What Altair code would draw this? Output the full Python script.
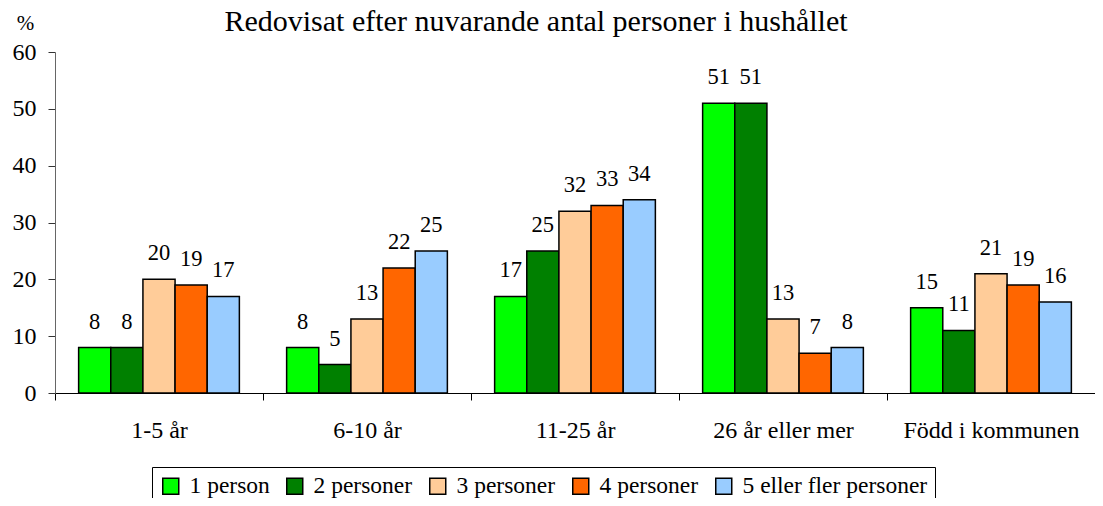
import altair as alt
import pandas as pd

groups = ["1-5 år", "6-10 år", "11-25 år", "26 år eller mer", "Född i kommunen"]
series = ["1 person", "2 personer", "3 personer", "4 personer", "5 eller fler personer"]
colors = ["#00FF00", "#008000", "#FFCC99", "#FF6600", "#99CCFF"]

v_1person = [8, 8, 17, 51, 15]
v_2personer = [8, 5, 25, 51, 11]
v_3personer = [20, 13, 32, 13, 21]
v_4personer = [19, 22, 33, 7, 19]
v_5fler = [17, 25, 34, 8, 16]

y_ticks = [0, 10, 20, 30, 40, 50, 60]

all_vals = [v_1person, v_2personer, v_3personer, v_4personer, v_5fler]
rows = []
for s, vals in zip(series, all_vals):
    for g, v in zip(groups, vals):
        rows.append({"group": g, "series": s, "value": v})
df = pd.DataFrame(rows)

FONT = "Liberation Serif"

x_enc = alt.X(
    "group:N",
    sort=groups,
    scale=alt.Scale(paddingInner=0, paddingOuter=0),
    axis=alt.Axis(
        title=None,
        labelAngle=0,
        tickBand="extent",
        tickSize=7,
        labelPadding=18,
        labelFont=FONT,
        labelFontSize=24,
        labelColor="black",
        labelLimit=0,
        domainColor="black",
        tickColor="black",
        domainWidth=1,
    ),
)
xoff_enc = alt.XOffset(
    "series:N",
    sort=series,
    scale=alt.Scale(paddingInner=0, paddingOuter=0.735),
)
y_enc = alt.Y(
    "value:Q",
    scale=alt.Scale(domain=[0, 60]),
    axis=alt.Axis(
        values=y_ticks,
        title="%",
        titleAngle=0,
        titleX=-30,
        titleY=-23,
        titleAlign="center",
        titleBaseline="alphabetic",
        titleFont=FONT,
        titleFontSize=21,
        titleFontWeight="normal",
        titleColor="black",
        grid=False,
        tickSize=7,
        labelPadding=12,
        labelFont=FONT,
        labelFontSize=24,
        labelColor="black",
        domainColor="#666666",
        tickColor="#333333",
    ),
)

bars = alt.Chart(df).mark_bar(stroke="black", strokeWidth=1.5).encode(
    x=x_enc,
    xOffset=xoff_enc,
    y=y_enc,
    color=alt.Color(
        "series:N",
        sort=series,
        scale=alt.Scale(domain=series, range=colors),
        legend=alt.Legend(
            title=None,
            orient="none",
            direction="horizontal",
            legendX=97,
            legendY=415,
            symbolType="square",
            symbolSize=256,
            symbolStrokeColor="black",
            symbolStrokeWidth=1.5,
            symbolOpacity=1,
            labelFont=FONT,
            labelFontSize=23.5,
            labelColor="black",
            labelLimit=0,
            labelOffset=7,
            columnPadding=13,
            padding=7,
            strokeColor="black",
            fillColor="white",
        ),
    ),
)

labels = alt.Chart(df).mark_text(
    baseline="alphabetic", dy=-19, font=FONT, fontSize=22.5, color="black"
).encode(
    x=alt.X("group:N", sort=groups),
    xOffset=alt.XOffset("series:N", sort=series),
    y=alt.Y("value:Q"),
    text=alt.Text("value:Q"),
)

chart = (
    alt.layer(bars, labels)
    .properties(
        width=1040,
        height=341,
        autosize=alt.AutoSizeParams(type="none"),
        padding={"left": 47, "top": 44, "right": 0, "bottom": 105},
        title=alt.TitleParams(
            "Redovisat efter nuvarande antal personer i hushållet",
            font=FONT,
            fontSize=30,
            fontWeight="normal",
            color="black",
            anchor="middle",
            frame="group",
            dx=-39,
            offset=-25,
        ),
    )
    .configure(font=FONT)
    .configure_view(stroke=None)
)

chart.save("out.html", embed_options={"renderer": "svg", "actions": False})
